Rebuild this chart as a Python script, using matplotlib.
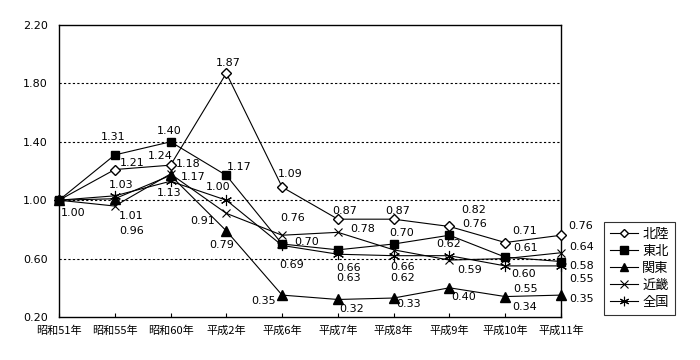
import matplotlib
matplotlib.use('Agg')
import matplotlib.pyplot as plt

plt.rcParams['font.family'] = ['Noto Sans CJK JP', 'DejaVu Sans']

years = ['昭和51年', '昭和55年', '昭和60年', '平成2年', '平成6年',
         '平成7年', '平成8年', '平成9年', '平成10年', '平成11年']

hokuriku = [1.00, 1.21, 1.24, 1.87, 1.09, 0.87, 0.87, 0.82, 0.71, 0.76]
tohoku = [1.00, 1.31, 1.40, 1.17, 0.70, 0.66, 0.70, 0.76, 0.61, 0.58]
kanto = [1.00, 1.01, 1.17, 0.79, 0.35, 0.32, 0.33, 0.40, 0.34, 0.35]
kinki = [1.00, 0.96, 1.18, 0.91, 0.76, 0.78, 0.66, 0.59, 0.60, 0.64]
zenkoku = [1.00, 1.03, 1.13, 1.00, 0.69, 0.63, 0.62, 0.62, 0.55, 0.55]

# label offsets in pixels (dx right, dy down); None = no label
off_hokuriku = [(14, 13), (17, -7), (-10, -9), (2, -10), (8, -13),
                (7, -8), (4, -8), (24, -16), (19, -12), (20, -9)]
off_tohoku = [None, (-2, -18), (-1, -11), (13, -8), (25, -2),
              (11, 18), (8, -11), (25, -11), (20, -9), (21, 4)]
off_kanto = [None, (16, 17), (23, 2), (-5, 14), (-19, 6),
             (14, 10), (15, 6), (14, 9), (19, 10), (21, 4)]
off_kinki = [None, (17, 25), (18, -10), (-24, 8), (11, -17),
             (25, -3), (9, 17), (20, 10), (18, 15), (21, -6)]
off_zenkoku = [None, (6, -11), (-1, 12), (-8, -13), (10, 20),
               (11, 24), (9, 22), (-1, -12), (20, 23), (21, 13)]

series = [
    ('北陸', hokuriku, off_hokuriku, dict(marker='D', markersize=5, markerfacecolor='white')),
    ('東北', tohoku, off_tohoku, dict(marker='s', markersize=6)),
    ('関東', kanto, off_kanto, dict(marker='^', markersize=7)),
    ('近畿', kinki, off_kinki, dict(marker='x', markersize=6, markeredgewidth=0.8)),
    ('全国', zenkoku, off_zenkoku, dict(marker=(6, 2, 0), markersize=8, markeredgewidth=0.8)),
]

fig = plt.figure(figsize=(7, 3.6), dpi=100)
ax = fig.add_axes([59 / 700, 1 - 317 / 360, 502 / 700, 292 / 360])

x = list(range(len(years)))
for name, vals, offs, style in series:
    ax.plot(x, vals, color='black', linewidth=0.8, markeredgecolor='black',
            label=name, clip_on=False, zorder=3, **style)
    for i, v in enumerate(vals):
        if offs[i] is None:
            continue
        dx, dy = offs[i]
        ax.annotate(f'{v:.2f}', (i, v), xytext=(dx, -dy), textcoords='offset pixels',
                    ha='center', va='center', fontsize=8, family='DejaVu Sans')

ax.set_xlim(0, len(years) - 1)
ax.set_ylim(0.2, 2.2)
ax.set_yticks([0.2, 0.6, 1.0, 1.4, 1.8, 2.2])
ax.set_yticklabels([f'{t:.2f}' for t in [0.2, 0.6, 1.0, 1.4, 1.8, 2.2]],
                   family='DejaVu Sans')
ax.set_xticks(x)
ax.set_xticklabels(years, fontsize=8)
ax.tick_params(axis='y', length=0, labelsize=8, pad=8)
ax.tick_params(axis='x', direction='in', length=3, pad=6)
for y in [0.6, 1.0, 1.4, 1.8]:
    ax.axhline(y, color='black', linestyle=(0, (2, 2)), linewidth=0.8, zorder=1)
for s in ax.spines.values():
    s.set_linewidth(1.0)

leg = fig.legend(loc='upper left', bbox_to_anchor=(604 / 700, 1 - 222 / 360),
                 fontsize=9.5, frameon=True, fancybox=False, edgecolor='black',
                 handlelength=2.1, borderpad=0.45, labelspacing=0.3,
                 handletextpad=0.35, borderaxespad=0, markerscale=0.85)
leg.get_frame().set_linewidth(0.8)

fig.savefig('out.png', dpi=100)
